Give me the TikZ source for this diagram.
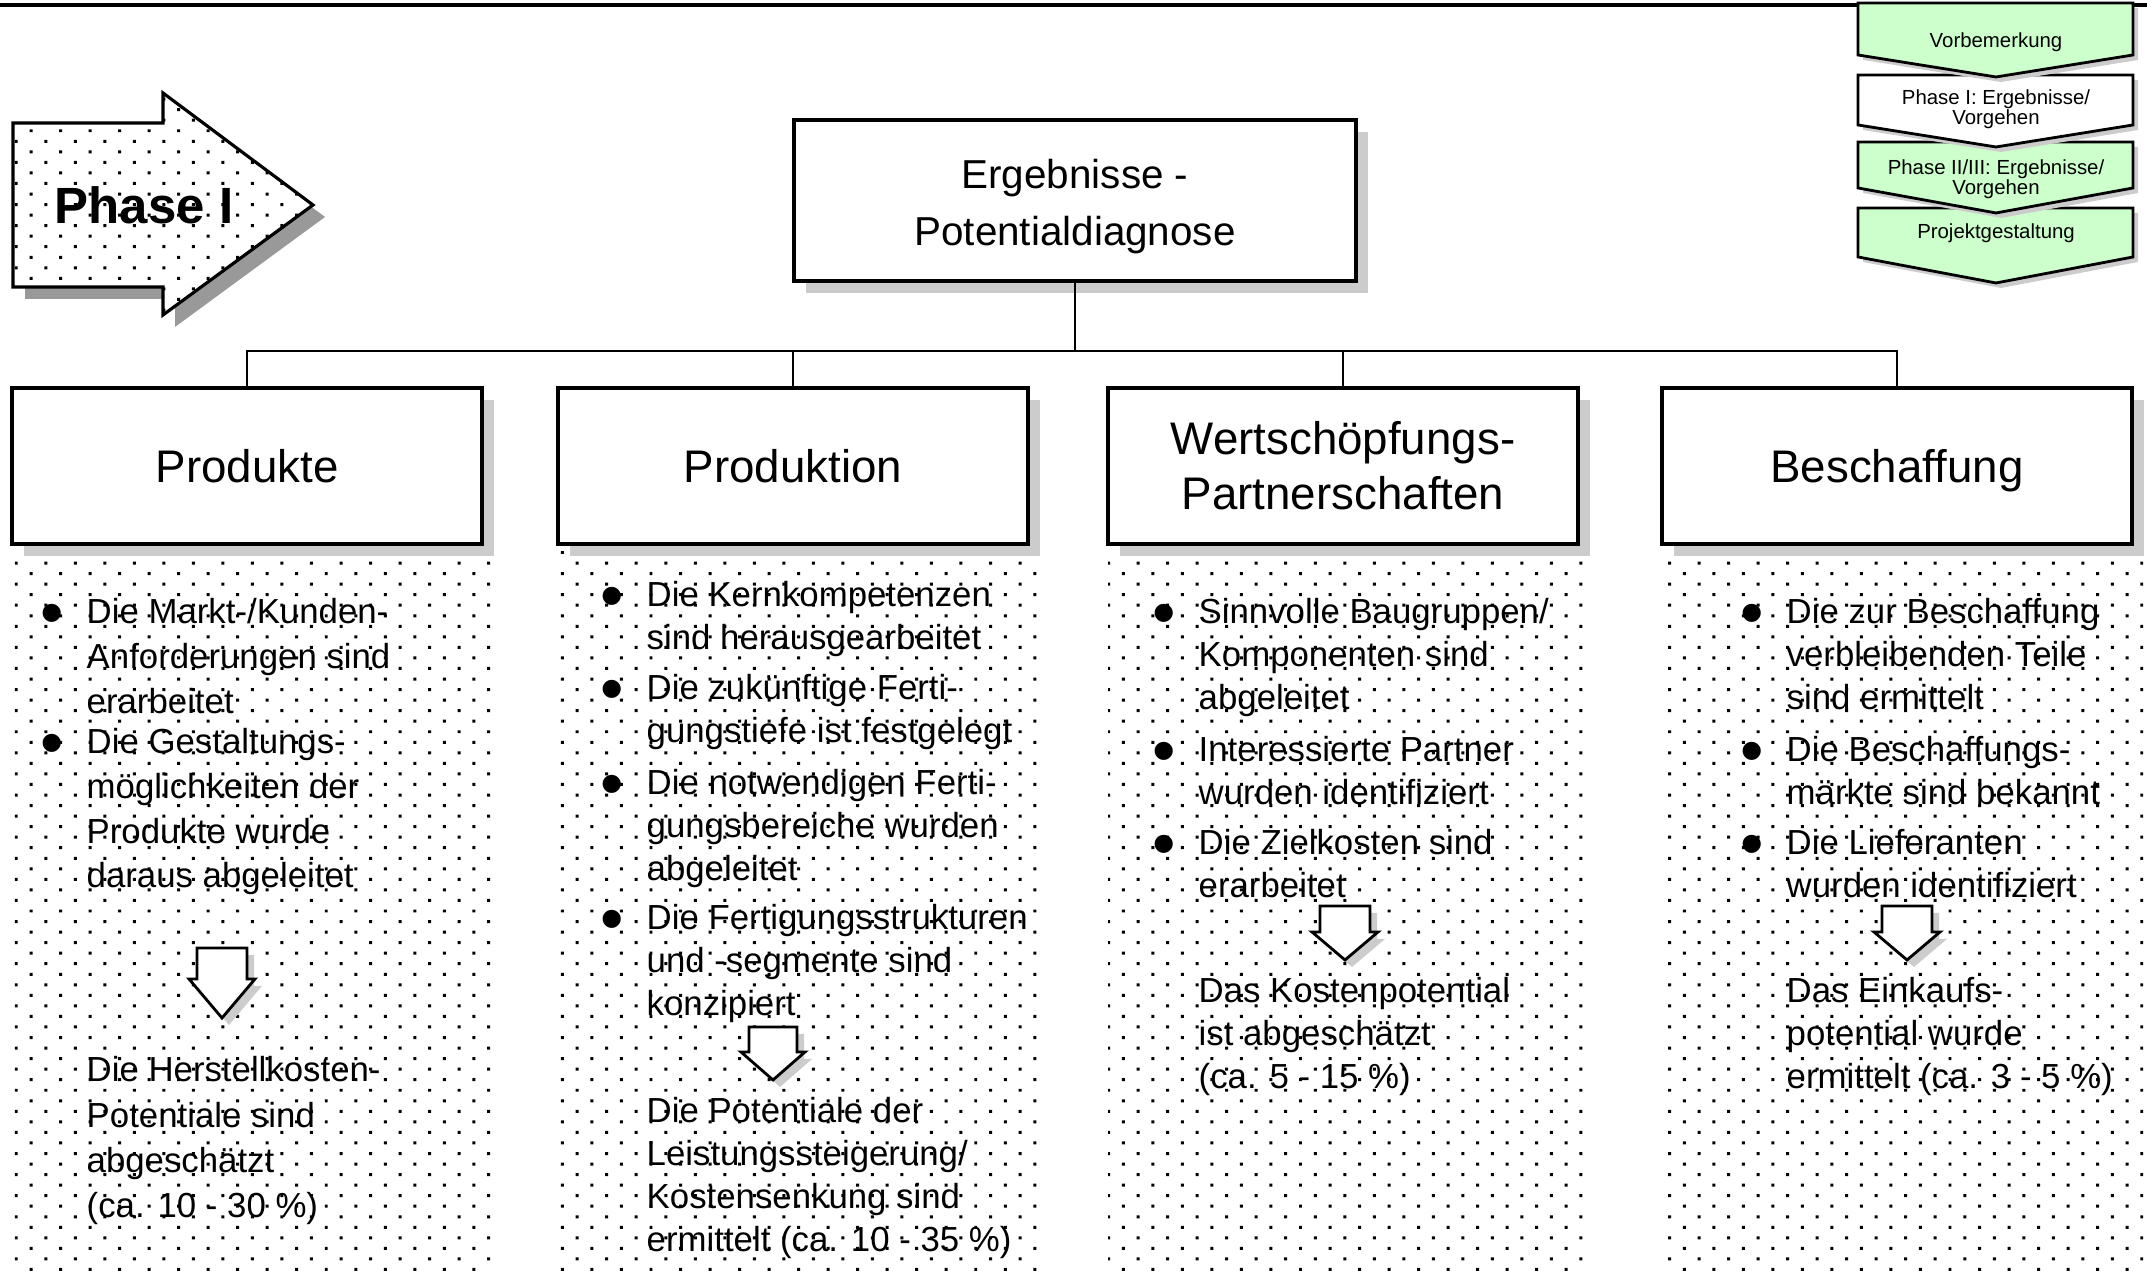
\documentclass[tikz,border=0pt]{standalone}
\usepackage{fontspec}
\setmainfont{Liberation Sans}
\usetikzlibrary{shadows,patterns}

% dotted fill of the result panels
\pgfdeclarepatternformonly{paneldots}{\pgfqpoint{-1pt}{-1pt}}{\pgfqpoint{9pt}{7pt}}{\pgfqpoint{8.4pt}{6pt}}{%
  \pgfpathrectangle{\pgfqpoint{0pt}{0pt}}{\pgfqpoint{0.85pt}{0.85pt}}%
  \pgfpathrectangle{\pgfqpoint{4.2pt}{3pt}}{\pgfqpoint{0.85pt}{0.85pt}}%
  \pgfusepath{fill}}

\definecolor{navgreen}{RGB}{204,255,204}
\newcommand{\bul}{\llap{\raisebox{-3.2pt}{\fontsize{19}{19}\selectfont\textbullet}\hspace{6.4pt}}}

\tikzset{
  hbox/.style={draw, line width=0.9pt, fill=white, minimum width=4.70cm, minimum height=1.56cm,
    inner sep=0pt, align=center, font=\fontsize{13}{15.6}\selectfont,
    drop shadow={shadow xshift=0.12cm, shadow yshift=-0.12cm, fill=black!20, opacity=1}},
  txt/.style={anchor=north west, align=left, inner sep=0pt, font=\fontsize{9.9}{12.2}\selectfont},
  conn/.style={line width=0.7pt},
  downarr/.style={draw, line width=0.8pt, fill=white,
    drop shadow={shadow xshift=0.07cm, shadow yshift=-0.07cm, fill=black!20, opacity=1}},
  navbox/.style={draw, line width=0.8pt,
    drop shadow={shadow xshift=0.05cm, shadow yshift=-0.05cm, fill=black!20, opacity=1}},
  navtxt/.style={align=center, inner sep=0pt, font=\fontsize{5.8}{5.6}\selectfont}
}

\begin{document}
\begin{tikzpicture}
\useasboundingbox (0,0) rectangle (21.47,12.71);

% dotted panels
\fill[pattern=paneldots] (0.12,7.27) rectangle (4.93,0);
\fill[pattern=paneldots] (5.59,7.27) rectangle (10.37,0);
\fill[pattern=paneldots] (11.08,7.27) rectangle (15.88,0);
\fill[pattern=paneldots] (16.62,7.27) rectangle (21.43,0);

\draw[line width=0.9pt] (0,12.66) -- (21.47,12.66);

% phase arrow
\draw[line width=0.9pt, fill=white, postaction={pattern=paneldots},
  drop shadow={shadow xshift=0.12cm, shadow yshift=-0.12cm, fill=black!40, opacity=1}]
  (0.13,11.48) -- (1.63,11.48) -- (1.63,11.78) -- (3.13,10.66) -- (1.63,9.56) -- (1.63,9.84) -- (0.13,9.84) -- cycle;
\node[font=\fontsize{14.5}{17}\selectfont\bfseries] (phase) at (1.44,10.66) {Phase I};

% tree
\node[hbox, minimum width=5.62cm, minimum height=1.61cm, font=\fontsize{11.5}{16.2}\selectfont]
  (title) at (10.75,10.705) {\rule{0pt}{11.6pt}Ergebnisse -\\Potentialdiagnose};
\node[hbox] (prod) at (2.47,8.05) {Produkte};
\node[hbox] (prodn) at (7.93,8.05) {Produktion};
\node[hbox] (wert) at (13.43,8.05) {Wertschöpfungs-\\Partnerschaften};
\node[hbox, text depth=0pt] (besch) at (18.97,8.05) {Beschaffung};

\coordinate (bus) at (0,9.20);
\draw[conn] (title.south) -- (title.south |- bus);
\draw[conn] (prod.north) -- (prod.north |- bus) -- (besch.north |- bus) -- (besch.north);
\draw[conn] (prodn.north) -- (prodn.north |- bus);
\draw[conn] (wert.north) -- (wert.north |- bus);

% Produkte
\node[txt, font=\fontsize{9.9}{12.7}\selectfont] (c1a) at (0.86,6.73) {\bul Die Markt-/Kunden-\\Anforderungen sind\\erarbeitet};
\node[txt, font=\fontsize{9.9}{12.7}\selectfont] (c1b) at (0.86,5.43) {\bul Die Gestaltungs-\\möglichkeiten der\\Produkte wurde\\daraus abgeleitet};
\draw[downarr] (1.97,3.23) -- (2.47,3.23) -- (2.47,2.92) -- (2.55,2.92) -- (2.22,2.53) -- (1.89,2.92) -- (1.97,2.92) -- cycle;
\node[txt, font=\fontsize{9.9}{12.9}\selectfont] (c1r) at (0.86,2.15) {Die Herstellkosten-\\Potentiale sind\\abgeschätzt\\(ca. 10 - 30 \%)};

% Produktion
\node[txt] (c2a) at (6.46,6.90) {\bul Die Kernkompetenzen\\sind herausgearbeitet};
\node[txt] (c2b) at (6.46,5.97) {\bul Die zukünftige Ferti-\\gungstiefe ist festgelegt};
\node[txt] (c2c) at (6.46,5.02) {\bul Die notwendigen Ferti-\\gungsbereiche wurden\\abgeleitet};
\node[txt] (c2d) at (6.46,3.67) {\bul Die Fertigungsstrukturen\\und -segmente sind\\konzipiert};
\draw[downarr] (7.49,2.44) -- (7.97,2.44) -- (7.97,2.19) -- (8.05,2.19) -- (7.73,1.91) -- (7.41,2.19) -- (7.49,2.19) -- cycle;
\node[txt] (c2r) at (6.46,1.74) {Die Potentiale der\\Leistungssteigerung/\\Kostensenkung sind\\ermittelt (ca. 10 - 35 \%)};

% Wertschoepfungs-Partnerschaften
\node[txt] (c3a) at (11.98,6.73) {\bul Sinnvolle Baugruppen/\\Komponenten sind\\abgeleitet};
\node[txt] (c3b) at (11.98,5.35) {\bul Interessierte Partner\\wurden identifiziert};
\node[txt] (c3c) at (11.98,4.42) {\bul Die Zielkosten sind\\erarbeitet};
\draw[downarr] (13.20,3.65) -- (13.70,3.65) -- (13.70,3.39) -- (13.78,3.39) -- (13.45,3.11) -- (13.12,3.39) -- (13.20,3.39) -- cycle;
\node[txt] (c3r) at (11.98,2.94) {Das Kostenpotential\\ist abgeschätzt\\(ca. 5 - 15 \%)};

% Beschaffung
\node[txt] (c4a) at (17.86,6.73) {\bul Die zur Beschaffung\\verbleibenden Teile\\sind ermittelt};
\node[txt] (c4b) at (17.86,5.35) {\bul Die Beschaffungs-\\märkte sind bekannt};
\node[txt] (c4c) at (17.86,4.42) {\bul Die Lieferanten\\wurden identifiziert};
\draw[downarr] (18.82,3.65) -- (19.32,3.65) -- (19.32,3.39) -- (19.40,3.39) -- (19.07,3.11) -- (18.74,3.39) -- (18.82,3.39) -- cycle;
\node[txt] (c4r) at (17.86,2.94) {Das Einkaufs-\\potential wurde\\ermittelt (ca. 3 - 5 \%)};

% navigation
\draw[navbox, fill=navgreen] (18.58,10.63) -- (21.33,10.63) -- (21.33,10.14) -- (19.96,9.88) -- (18.58,10.14) -- cycle;
\draw[navbox, fill=navgreen] (18.58,11.29) -- (21.33,11.29) -- (21.33,10.83) -- (19.96,10.58) -- (18.58,10.83) -- cycle;
\draw[navbox, fill=white] (18.58,11.96) -- (21.33,11.96) -- (21.33,11.46) -- (19.96,11.24) -- (18.58,11.46) -- cycle;
\draw[navbox, fill=navgreen] (18.58,12.68) -- (21.33,12.68) -- (21.33,12.16) -- (19.96,11.94) -- (18.58,12.16) -- cycle;
\node[navtxt] (nav1) at (19.96,12.29) {Vorbemerkung};
\node[navtxt] (nav2) at (19.96,11.62) {Phase I: Ergebnisse/\\Vorgehen};
\node[navtxt] (nav3) at (19.96,10.915) {Phase II/III: Ergebnisse/\\Vorgehen};
\node[navtxt] (nav4) at (19.96,10.38) {Projektgestaltung};
\end{tikzpicture}
\end{document}
